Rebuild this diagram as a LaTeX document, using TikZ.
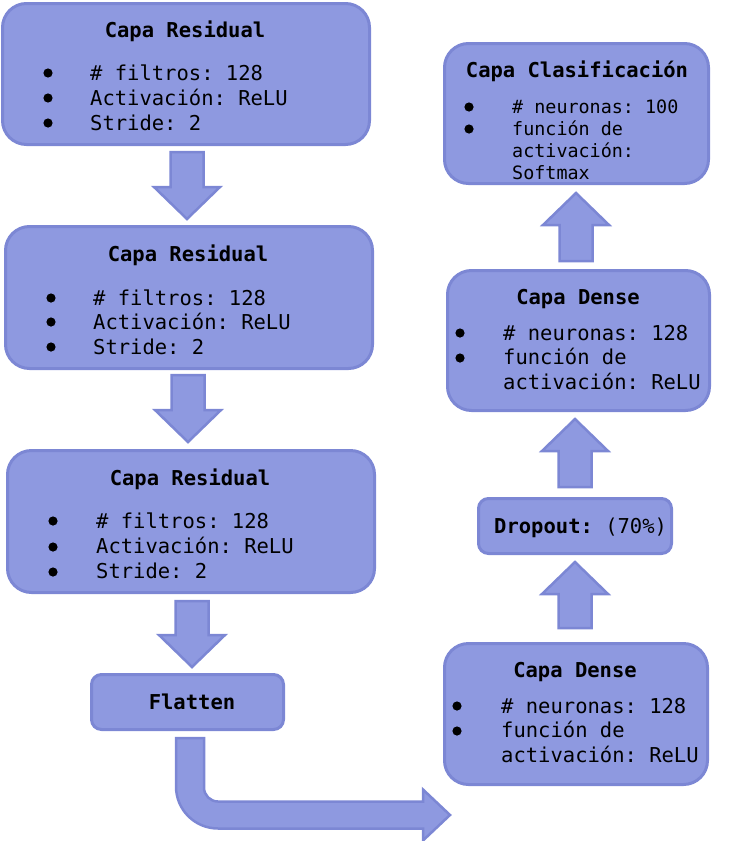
\documentclass[tikz,border=0pt]{standalone}
\usepackage{fontspec}
\setmonofont{DejaVu Sans Mono}
\usetikzlibrary{calc}
\definecolor{boxfill}{RGB}{142,153,224}
\definecolor{boxline}{RGB}{124,135,212}
\tikzset{
  blk/.style={fill=boxfill, draw=boxline, line width=2.5pt, line join=miter},
  bigbox/.style={rectangle, rounded corners=24pt, fill=boxfill, draw=boxline, line width=3pt, inner sep=0pt},
  smallbox/.style={rectangle, rounded corners=10pt, fill=boxfill, draw=boxline, line width=3pt, inner sep=0pt},
  ttl/.style={font=\fontsize{20.5}{25}\selectfont\ttfamily\bfseries, inner sep=0pt, anchor=base},
  txt/.style={font=\fontsize{20.5}{25}\selectfont\ttfamily, inner sep=0pt, anchor=base west},
  txts/.style={font=\fontsize{18.4}{22}\selectfont\ttfamily, inner sep=0pt, anchor=base west},
}
% vertical block arrow: #1 start of shaft, #2 tip
\newcommand{\barrowv}[2]{%
  \path[blk] let \p1=#1, \p2=#2, \n1={sign(\y1-\y2)} in
    ({\x2-16.5pt},\y1) -- ({\x2+16.5pt},\y1) -- ({\x2+16.5pt},{\y2+\n1*32pt}) --
    ({\x2+33pt},{\y2+\n1*32pt}) -- (\x2,\y2) -- ({\x2-33pt},{\y2+\n1*32pt}) --
    ({\x2-16.5pt},{\y2+\n1*32pt}) -- cycle;}
\newcommand{\bdot}[1]{\fill #1 circle[radius=4.6pt];}
\begin{document}
\begin{tikzpicture}[x=1pt,y=-1pt]
\useasboundingbox (0,0) rectangle (731,841);

% ---- left column ----
\node[bigbox, minimum width=367pt, minimum height=141pt] (r1) at (186,74) {};
\node[ttl] at (185,37) {Capa Residual};
\bdot{(48,73)} \node[txt] at (90,80) {\# filtros: 128};
\bdot{(48,98)} \node[txt] at (90,105) {Activación: ReLU};
\bdot{(48,123)} \node[txt] at (90,130) {Stride: 2};

\node[bigbox, minimum width=367pt, minimum height=142pt] (r2) at (189,297.5) {};
\node[ttl] at (188,261) {Capa Residual};
\bdot{(51,298)} \node[txt] at (93,305) {\# filtros: 128};
\bdot{(51,322)} \node[txt] at (93,329) {Activación: ReLU};
\bdot{(51,347)} \node[txt] at (93,354) {Stride: 2};

\node[bigbox, minimum width=367pt, minimum height=142pt] (r3) at (191,521.5) {};
\node[ttl] at (190,485) {Capa Residual};
\bdot{(53,521)} \node[txt] at (96,528) {\# filtros: 128};
\bdot{(53,547)} \node[txt] at (96,553) {Activación: ReLU};
\bdot{(53,572)} \node[txt] at (96,578) {Stride: 2};

\node[smallbox, minimum width=192pt, minimum height=55pt] (fl) at (187.5,702) {};
\node[ttl] at (192,709) {Flatten};

\barrowv{($(r1.south)+(1,6)$)}{($(r1.south |- r2.north)+(1,-6)$)}
\barrowv{($(r2.south)+(-1,5)$)}{($(r2.south |- r3.north)+(-1,-7)$)}
\barrowv{($(r3.south)+(1,7)$)}{($(r3.south |- fl.north)+(1,-6)$)}

% ---- right column ----
\node[bigbox, minimum width=264pt, minimum height=140pt] (cl) at (576.5,113.5) {};
\node[ttl] at (577,77) {Capa Clasificación};
\bdot{(469,107)} \node[txts] at (512,113) {\# neuronas: 100};
\bdot{(469,129)} \node[txts] at (512,135) {función de};
\node[txts] at (512,157) {activación:};
\node[txts] at (512,179) {Softmax};

\node[bigbox, minimum width=262pt, minimum height=140pt] (dn2) at (578.5,340.5) {};
\node[ttl] at (578,304) {Capa Dense};
\bdot{(460,333)} \node[txt] at (503,340) {\# neuronas: 128};
\bdot{(460,358)} \node[txt] at (503,364) {función de};
\node[txt] at (503,389) {activación: ReLU};

\node[smallbox, minimum width=193pt, minimum height=55pt] (dp) at (575,526) {};
\node[txt] at (494,533) {\textbf{Dropout:} (70\%)};

\node[bigbox, minimum width=263pt, minimum height=141pt] (dn1) at (576,714) {};
\node[ttl] at (575,677) {Capa Dense};
\bdot{(457,706)} \node[txt] at (501,713) {\# neuronas: 128};
\bdot{(457,731)} \node[txt] at (501,737) {función de};
\node[txt] at (501,762) {activación: ReLU};

\barrowv{($(dn1.north)+(-1,-14)$)}{($(dn1.north |- dp.south)+(-1,7)$)}
\barrowv{($(dp.north)+(0,-10)$)}{($(dp.north |- dn2.south)+(0,7)$)}
\barrowv{($(dn2.north)+(-2.5,-8)$)}{($(dn2.north |- cl.south)+(-2.5,8)$)}

% ---- bent arrow Flatten -> Dense ----
\path[blk] let \p1=($(fl.south)+(2.5,7)$), \p2=($(dn1.south west)+(7,29)$) in
  ({\x1-14pt},\y1) -- ({\x1+14pt},\y1) -- ({\x1+14pt},{\y2+27.5pt})
  arc[start angle=180, end angle=270, radius=14pt]
  -- ({\x2-27pt},{\y2+13.5pt}) -- ({\x2-27pt},{\y2+25.5pt}) -- (\x2,\y2)
  -- ({\x2-27pt},{\y2-25.5pt}) -- ({\x2-27pt},{\y2-13.5pt})
  -- ({\x1-14pt+42pt},{\y2-13.5pt})
  arc[start angle=270, end angle=180, radius=42pt] -- cycle;
\end{tikzpicture}
\end{document}
